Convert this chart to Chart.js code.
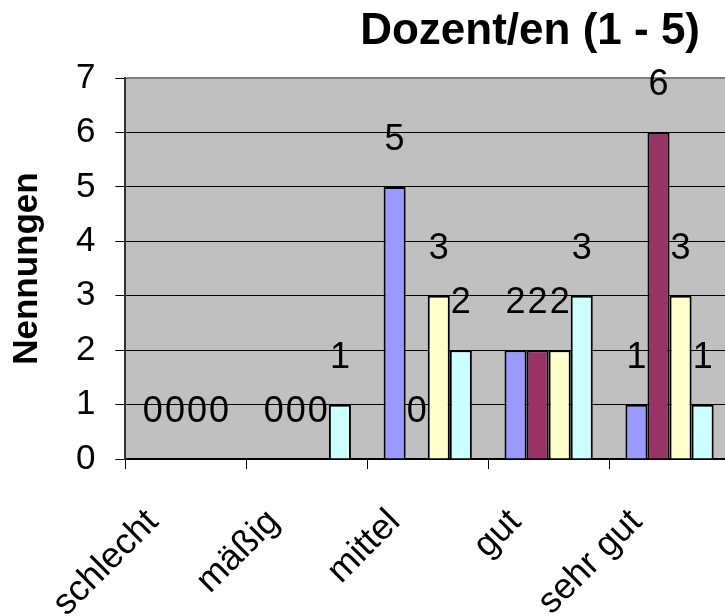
<!DOCTYPE html>
<html>
<head>
<meta charset="utf-8">
<script src="https://cdn.jsdelivr.net/npm/chart.js@4"></script>
<style>
  html, body { margin: 0; padding: 0; overflow: hidden; background: #fff; }
  #wrap { width: 725px; height: 616px; overflow: hidden; }
</style>
</head>
<body>
<div id="wrap"><canvas id="chart" width="745" height="657"></canvas></div>
<script>
const categories = ["schlecht", "mäßig", "mittel", "gut", "sehr gut"];
const seriesNames = ["Dozent/in 1", "Dozent/in 2", "Dozent/in 3", "Dozent/in 4"];
const series1 = [0, 0, 5, 2, 1];
const series2 = [0, 0, 0, 2, 6];
const series3 = [0, 0, 3, 2, 3];
const series4 = [0, 1, 2, 3, 1];
const yTicks = [0, 1, 2, 3, 4, 5, 6, 7];
const colors = ["#9999FF", "#993366", "#FFFFCC", "#CCFFFF"];

const FONT = "'Liberation Sans', Arial, sans-serif";

// grey plot area, its top border and the title
const plotBackground = {
  id: "plotBackground",
  beforeDraw(chart) {
    const { ctx, chartArea: a } = chart;
    ctx.save();
    ctx.fillStyle = "#C0C0C0";
    ctx.fillRect(a.left, a.top, a.right - a.left, a.bottom - a.top);
    ctx.restore();
  },
  beforeDatasetsDraw(chart) {
    const { ctx, chartArea: a } = chart;
    ctx.save();
    ctx.strokeStyle = "#808080";
    ctx.lineWidth = 2;
    ctx.beginPath();
    ctx.moveTo(a.left + 1, a.top);
    ctx.lineTo(a.right, a.top);
    ctx.lineTo(a.right, a.bottom);
    ctx.stroke();
    ctx.restore();
  },
  afterDraw(chart) {
    const { ctx, chartArea: a } = chart;
    ctx.save();
    ctx.font = "bold 44px " + FONT;
    ctx.fillStyle = "#000";
    ctx.textAlign = "right";
    ctx.textBaseline = "alphabetic";
    ctx.fillText("Dozent/en (1 - 5)", a.right - 30, 44);
    ctx.restore();
  }
};

// value labels above each bar
const valueLabels = {
  id: "valueLabels",
  afterDatasetsDraw(chart) {
    const { ctx } = chart;
    ctx.save();
    ctx.font = "36px " + FONT;
    ctx.fillStyle = "#000";
    ctx.textAlign = "center";
    ctx.textBaseline = "middle";
    chart.data.datasets.forEach((ds, i) => {
      chart.getDatasetMeta(i).data.forEach((bar, j) => {
        ctx.fillText(String(ds.data[j]), bar.x, bar.y - 47);
      });
    });
    ctx.restore();
  }
};

const allSeries = [series1, series2, series3, series4];

new Chart(document.getElementById("chart").getContext("2d"), {
  type: "bar",
  data: {
    labels: categories,
    datasets: allSeries.map((values, i) => ({
      label: seriesNames[i],
      data: values,
      backgroundColor: colors[i],
      borderColor: "#000",
      borderWidth: 2,
      categoryPercentage: 0.73,
      barPercentage: 1.0
    }))
  },
  options: {
    responsive: false,
    animation: false,
    layout: { padding: { top: 78, left: 3, right: 15, bottom: 0 } },
    plugins: {
      legend: { display: false },
      title: { display: false },
      tooltip: { enabled: false }
    },
    scales: {
      x: {
        grid: {
          offset: true,
          drawOnChartArea: false,
          color: "#000",
          tickLength: 10
        },
        border: { color: "#000", width: 2 },
        ticks: {
          color: "#000",
          font: { family: FONT, size: 36 },
          maxRotation: 45,
          minRotation: 45,
          padding: 32,
          labelOffset: -33
        }
      },
      y: {
        min: 0,
        max: 7,
        afterBuildTicks(scale) {
          scale.ticks = yTicks.map((v) => ({ value: v }));
        },
        grid: { color: "#000", lineWidth: 1, tickLength: 10 },
        border: { color: "#333", width: 2 },
        ticks: {
          color: "#000",
          font: { family: FONT, size: 35 },
          padding: 20
        },
        title: {
          display: true,
          text: "Nennungen",
          color: "#000",
          font: { family: FONT, size: 35, weight: "bold" },
          padding: { top: 3, bottom: 8 }
        }
      }
    }
  },
  plugins: [plotBackground, valueLabels]
});
</script>
</body>
</html>
